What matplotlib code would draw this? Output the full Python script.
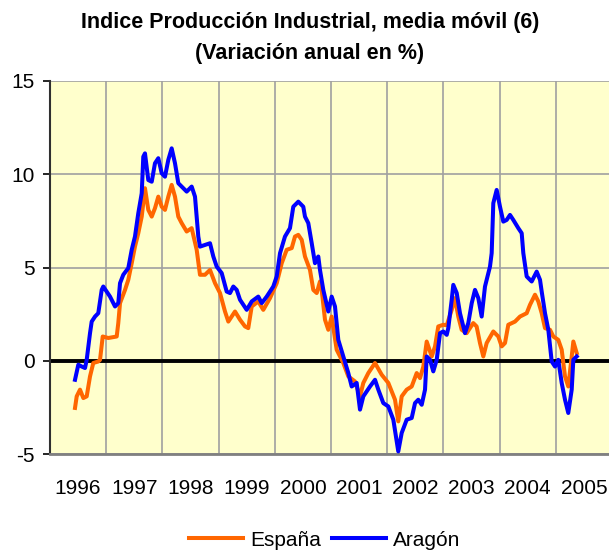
import matplotlib
matplotlib.use("Agg")
import matplotlib.pyplot as plt
from matplotlib.ticker import FixedLocator, NullFormatter
import numpy as np

plt.rcParams['font.family'] = ['Liberation Sans', 'DejaVu Sans']
plt.rcParams['axes.unicode_minus'] = False

# Data: time in years since Jan 1996, value in %
aragon_t = [0.445, 0.504, 0.564, 0.623, 0.653, 0.712, 0.742, 0.801, 0.859, 0.920,
            0.948, 1.068, 1.157, 1.215, 1.246, 1.304, 1.393, 1.454, 1.512, 1.571,
            1.632, 1.660, 1.690, 1.749, 1.810, 1.868, 1.927, 1.988, 2.046, 2.105,
            2.165, 2.224, 2.283, 2.372, 2.432, 2.521, 2.580, 2.639, 2.669, 2.758,
            2.847, 2.906, 2.966, 3.055, 3.144, 3.203, 3.262, 3.322, 3.381, 3.500,
            3.589, 3.706, 3.767, 3.856, 3.973, 4.034, 4.093, 4.181, 4.270, 4.329,
            4.418, 4.507, 4.537, 4.596, 4.657, 4.715, 4.774, 4.804, 4.863, 4.952,
            5.012, 5.071, 5.130, 5.219, 5.308, 5.368, 5.457, 5.516, 5.575, 5.694,
            5.783, 5.842, 5.931, 6.020, 6.109, 6.197, 6.258, 6.347, 6.436, 6.495,
            6.553, 6.614, 6.673, 6.703, 6.762, 6.820, 6.881, 6.940, 6.998, 7.059,
            7.087, 7.148, 7.176, 7.237, 7.295, 7.384, 7.443, 7.504, 7.562, 7.621,
            7.681, 7.740, 7.829, 7.859, 7.888, 7.948, 8.007, 8.066, 8.126, 8.185,
            8.244, 8.333, 8.393, 8.422, 8.482, 8.571, 8.660, 8.719, 8.749, 8.808,
            8.867, 8.927, 8.986, 9.044, 9.105, 9.164, 9.222, 9.283, 9.312, 9.372]
aragon_v = [-1.02, -0.21, -0.31, -0.39, 0.05, 1.48, 2.10, 2.37, 2.55, 3.80,
            3.98, 3.44, 2.91, 3.09, 4.16, 4.61, 4.97, 5.95, 6.66, 7.91,
            8.98, 10.94, 11.12, 9.69, 9.60, 10.59, 10.86, 10.05, 9.87, 10.77,
            11.39, 10.59, 9.52, 9.25, 9.07, 9.34, 8.80, 6.66, 6.12, 6.21,
            6.30, 5.59, 5.05, 4.70, 3.71, 3.63, 3.98, 3.80, 3.27, 2.73,
            3.18, 3.44, 3.09, 3.44, 3.98, 4.52, 5.77, 6.66, 7.11, 8.26,
            8.53, 8.26, 7.73, 7.38, 6.30, 5.23, 5.59, 4.87, 3.80, 2.64,
            3.44, 2.91, 1.12, 0.23, -0.66, -1.38, -1.19, -2.62, -1.91, -1.38,
            -1.02, -1.55, -2.27, -2.45, -3.16, -4.86, -3.87, -3.16, -3.07, -2.27,
            -2.09, -2.36, -1.55, 0.23, 0.05, -0.57, 0.05, 1.48, 1.57, 1.39,
            1.75, 3.27, 4.07, 3.63, 2.55, 1.48, 2.02, 3.09, 3.80, 3.36,
            2.37, 3.98, 5.05, 5.77, 8.45, 9.16, 8.26, 7.46, 7.55, 7.82,
            7.55, 7.11, 6.84, 5.77, 4.52, 4.25, 4.78, 4.34, 3.71, 2.55,
            1.66, -0.04, -0.31, 0.05, -1.19, -2.09, -2.80, -1.55, 0.05, 0.23]

espana_t = [0.445, 0.475, 0.534, 0.593, 0.653, 0.712, 0.770, 0.859, 0.890, 0.938,
            1.037, 1.187, 1.215, 1.246, 1.335, 1.393, 1.454, 1.512, 1.571, 1.632,
            1.690, 1.749, 1.810, 1.868, 1.927, 1.988, 2.046, 2.105, 2.165, 2.224,
            2.283, 2.343, 2.432, 2.521, 2.610, 2.669, 2.758, 2.847, 2.936, 3.025,
            3.114, 3.173, 3.292, 3.381, 3.470, 3.528, 3.589, 3.706, 3.795, 3.915,
            4.034, 4.123, 4.212, 4.301, 4.359, 4.418, 4.479, 4.537, 4.626, 4.685,
            4.746, 4.804, 4.834, 4.893, 4.952, 5.012, 5.101, 5.219, 5.308, 5.427,
            5.516, 5.575, 5.664, 5.783, 5.902, 6.020, 6.139, 6.197, 6.258, 6.347,
            6.436, 6.525, 6.584, 6.643, 6.703, 6.792, 6.851, 6.909, 6.998, 7.059,
            7.148, 7.206, 7.265, 7.325, 7.414, 7.531, 7.591, 7.651, 7.710, 7.770,
            7.888, 7.977, 8.037, 8.096, 8.155, 8.274, 8.363, 8.482, 8.541, 8.630,
            8.689, 8.749, 8.808, 8.897, 8.956, 9.044, 9.105, 9.164, 9.222, 9.283,
            9.312, 9.372]
espana_v = [-2.53, -1.91, -1.55, -2.00, -1.91, -0.84, -0.12, -0.04, 0.05, 1.30,
            1.22, 1.30, 2.02, 3.09, 3.80, 4.34, 5.23, 6.12, 6.84, 7.73,
            9.25, 8.09, 7.73, 8.18, 8.80, 8.26, 8.09, 8.80, 9.43, 8.80,
            7.73, 7.38, 6.93, 7.11, 5.95, 4.61, 4.61, 4.87, 4.16, 3.63,
            2.64, 2.10, 2.64, 2.20, 1.84, 1.75, 2.91, 3.18, 2.73, 3.36,
            4.16, 5.23, 5.95, 6.04, 6.66, 6.75, 6.48, 5.59, 4.87, 3.80,
            3.63, 4.25, 3.80, 2.20, 1.66, 2.37, 0.59, -0.12, -0.84, -1.11,
            -1.91, -1.19, -0.66, -0.12, -0.75, -1.19, -2.09, -3.25, -1.91, -1.55,
            -1.38, -0.66, -0.93, -0.31, 1.03, 0.23, 0.77, 1.84, 1.93, 1.90,
            2.73, 3.36, 2.37, 1.66, 1.48, 2.02, 1.84, 0.95, 0.23, 0.95,
            1.57, 1.30, 0.77, 0.95, 1.93, 2.10, 2.37, 2.55, 3.00, 3.54,
            3.18, 2.55, 1.75, 1.66, 1.30, 1.12, 0.59, -0.84, -1.38, 0.23,
            1.03, 0.41]

years = [1996, 1997, 1998, 1999, 2000, 2001, 2002, 2003, 2004, 2005]

fig = plt.figure(figsize=(6.09, 5.50), dpi=100)
ax = fig.add_axes([50 / 609, 1 - 454 / 550, 562 / 609, 373 / 550])
ax.set_facecolor('#FFFFCC')

ax.plot(1996 + np.array(espana_t), espana_v, color='#FF6600', lw=2.9, label='España',
        zorder=3, solid_joinstyle='round')
ax.plot(1996 + np.array(aragon_t), aragon_v, color='#0000FF', lw=2.9, label='Aragón',
        zorder=4, solid_joinstyle='round')
ax.axhline(0, color='black', lw=2.8, zorder=2)

ax.set_xlim(1996, 2006)
ax.set_ylim(-5, 15)
ax.set_yticks([-5, 0, 5, 10, 15])

# gridlines on the year boundaries, labels centred in each year
ax.xaxis.set_major_locator(FixedLocator(years + [2006]))
ax.xaxis.set_major_formatter(NullFormatter())
ax.xaxis.set_minor_locator(FixedLocator([y + 0.5 for y in years]))
ax.set_xticklabels([str(y) for y in years], minor=True)
ax.tick_params(axis='x', which='both', length=0)
ax.tick_params(axis='x', which='minor', labelsize=15, pad=18)
ax.tick_params(axis='y', labelsize=15, length=5, width=1.2, pad=6, direction='out')

ax.grid(True, which='major', color='#A0A0A0', lw=1.2, zorder=1)
ax.set_axisbelow(True)

for s in ['top', 'right']:
    ax.spines[s].set_visible(False)
ax.spines['bottom'].set_color('#808080')
ax.spines['bottom'].set_linewidth(2)
ax.spines['left'].set_color('#303030')
ax.spines['left'].set_linewidth(1.5)

fig.text(310 / 609, 1 - 38 / 550,
         'Indice Producción Industrial, media móvil (6)\n(Variación anual en %)',
         ha='center', va='center', fontsize=15.5, fontweight='bold', linespacing=1.6)

fig.legend(loc='center', bbox_to_anchor=(325 / 609, 1 - 540 / 550), ncol=2,
           frameon=False, fontsize=15, handlelength=2.6, handletextpad=0.35,
           columnspacing=0.5)

fig.savefig('out.png', dpi=100)
